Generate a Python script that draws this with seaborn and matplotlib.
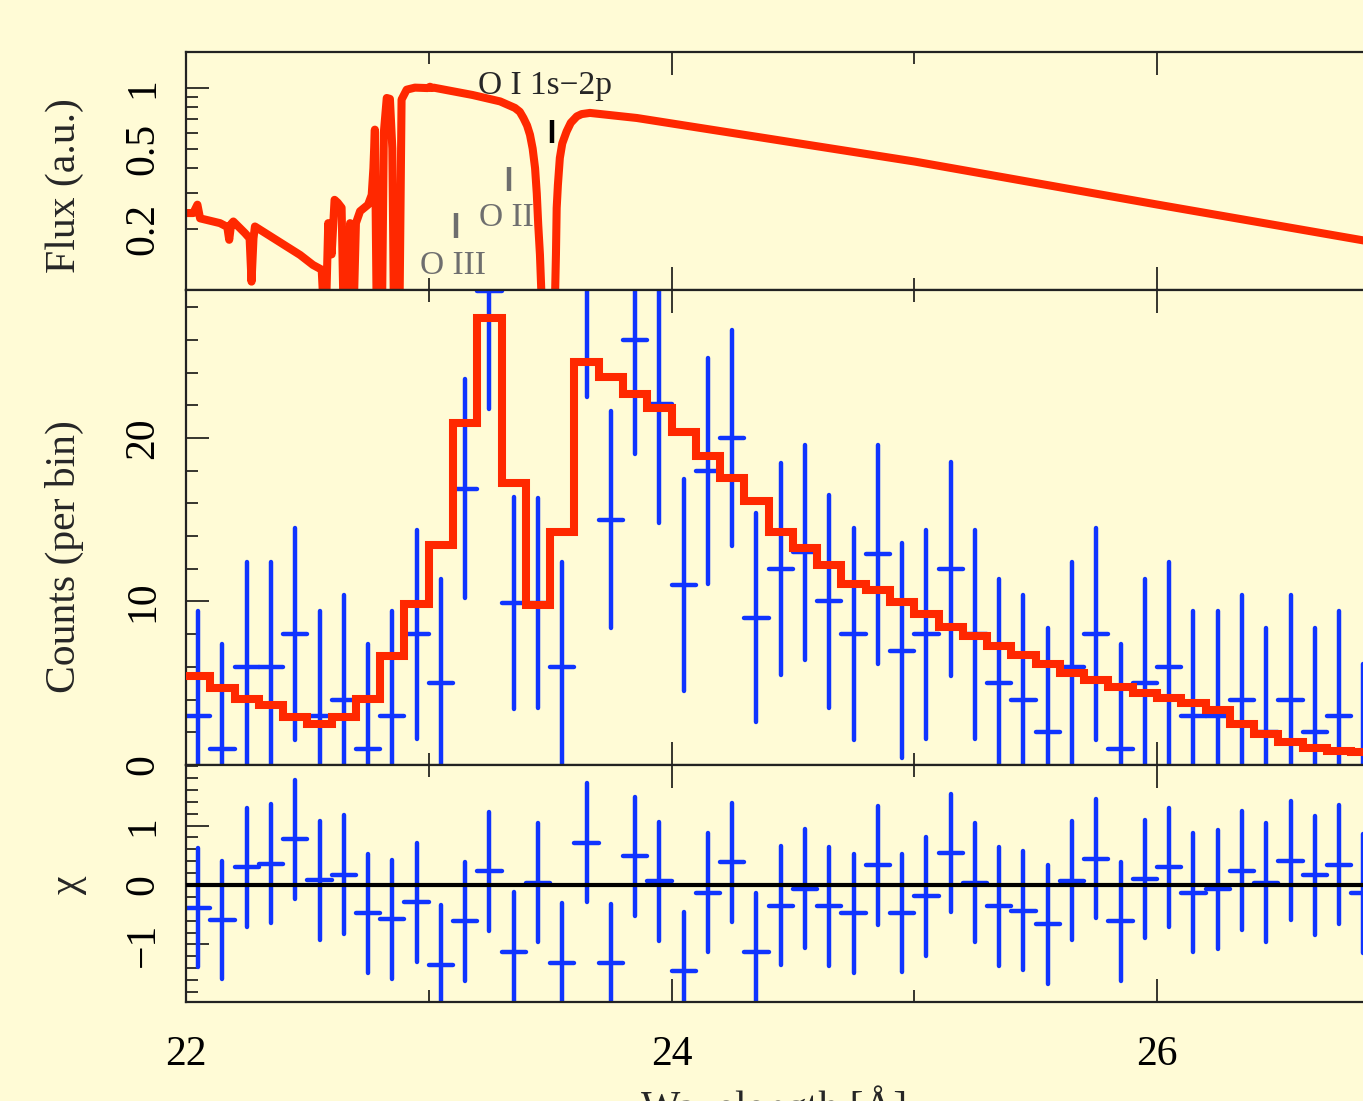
import numpy as np
import matplotlib
matplotlib.use("Agg")
import matplotlib.pyplot as plt
from matplotlib.ticker import FixedLocator, FixedFormatter
import seaborn as sns

# --- data ---
# model flux (top panel)
flux_wl = [22.00, 22.03, 22.047, 22.058, 22.14, 22.17, 22.178, 22.186, 22.195,
           22.243, 22.262, 22.27, 22.278, 22.284, 22.47, 22.523, 22.559,
           22.565, 22.578, 22.586, 22.600, 22.612, 22.625, 22.641, 22.648,
           22.668, 22.676, 22.684, 22.692, 22.700, 22.717, 22.750, 22.765,
           22.772, 22.778, 22.785, 22.808, 22.815, 22.827, 22.840, 22.850,
           22.856, 22.880, 22.888, 22.909, 22.943, 22.995, 23.005, 23.012,
           23.02, 23.18, 23.294, 23.355, 23.375, 23.39, 23.405, 23.417,
           23.428, 23.438, 23.445, 23.451, 23.458, 23.465, 23.52, 23.524,
           23.527, 23.532, 23.54, 23.55, 23.568, 23.585, 23.61, 23.63,
           23.664, 23.857, 25.003, 26.004, 26.92]
flux_val = [0.240, 0.240, 0.264, 0.226, 0.214, 0.205, 0.177, 0.212, 0.218,
            0.191, 0.180, 0.110, 0.180, 0.206, 0.149, 0.133, 0.126,
            0.090, 0.090, 0.214, 0.150, 0.279, 0.270, 0.255, 0.090,
            0.090, 0.214, 0.090, 0.090, 0.214, 0.245, 0.264, 0.295,
            0.400, 0.620, 0.090, 0.090, 0.600, 0.889, 0.880, 0.500,
            0.090, 0.090, 0.873, 0.977, 1.000, 0.995, 1.010, 0.995,
            1.000, 0.920, 0.855, 0.794, 0.760, 0.708, 0.650, 0.585,
            0.500, 0.400, 0.300, 0.210, 0.150, 0.090, 0.090, 0.150,
            0.254, 0.330, 0.449, 0.530, 0.608, 0.670, 0.721, 0.740,
            0.750, 0.708, 0.431, 0.264, 0.170]

# binned spectrum (0.1 A bins starting at 22.0 A)
bin_start = 22.0
bin_width = 0.1
counts = [3, 1, 6, 6, 8, 3, 4, 1, 3, 8,
          5, 16.9, 29.0, 9.9, 9.9, 6, 29.5, 15, 26, 22.1,
          11, 18, 20, 9, 12, 13, 10, 8, 12.9, 7,
          8, 12, 8, 5, 4, 2, 6, 8, 1, 5,
          6, 3, 3, 4, 2, 4, 2, 3, -0.1]
counts_err = [6.4, 6.4, 6.4, 6.4, 6.5, 6.4, 6.4, 6.4, 6.4, 6.4,
              6.4, 6.7, 7.2, 6.5, 6.4, 6.4, 7.0, 6.65, 7.0, 7.3,
              6.5, 6.9, 6.6, 6.4, 6.5, 6.6, 6.5, 6.5, 6.7, 6.6,
              6.4, 6.55, 6.4, 6.4, 6.4, 6.4, 6.4, 6.5, 6.4, 6.4,
              6.4, 6.4, 6.4, 6.4, 6.4, 6.4, 6.4, 6.4, 6.3]
model_counts = [5.44, 4.69, 4.06, 3.67, 2.96, 2.49, 2.92, 4.06, 6.69, 9.85,
                13.46, 20.9, 27.36, 17.23, 9.79, 14.27, 24.67, 23.75, 22.69, 21.81,
                20.35, 18.92, 17.53, 16.17, 14.23, 13.25, 12.23, 11.07, 10.70, 9.99,
                9.22, 8.46, 7.89, 7.28, 6.73, 6.18, 5.61, 5.2, 4.79, 4.38,
                4.08, 3.77, 3.36, 2.49, 1.9, 1.43, 1.02, 0.86, 0.82]
chi = [-0.38, -0.59, 0.30, 0.36, 0.77, 0.08, 0.17, -0.48, -0.58, -0.29,
       -1.34, -0.61, 0.23, -1.12, 0.04, -1.31, 0.71, -1.32, 0.48, 0.06,
       -1.45, -0.13, 0.38, -1.13, -0.35, -0.06, -0.36, -0.48, 0.33, -0.47,
       -0.19, 0.54, 0.04, -0.36, -0.43, -0.66, 0.07, 0.44, -0.61, 0.10,
       0.30, -0.13, -0.07, 0.24, 0.04, 0.41, 0.16, 0.34, -0.14]
chi_err = 1.0

# absorption line markers
line_names = ["O I 1s\u22122p", "O II", "O III"]
line_wl = [23.509, 23.331, 23.112]

# --- style ---
bg = "#fffbd6"
red = "#ff2800"
blue = "#1034ff"
grey = "#6e6e6e"

sns.set_style("ticks", {"axes.facecolor": bg, "figure.facecolor": bg,
                        "axes.edgecolor": "#222222"})
plt.rcParams["font.family"] = ["Liberation Serif", "DejaVu Serif"]
plt.rcParams["axes.linewidth"] = 1.6

fig = plt.figure(figsize=(13.63, 11.01), dpi=100)
L = 186 / 1363
W = 1189 / 1363   # right edge sits just past the picture, as in the original crop
ax1 = fig.add_axes([L, (1101 - 290) / 1101, W, 238 / 1101])
ax2 = fig.add_axes([L, (1101 - 765) / 1101, W, 475 / 1101])
ax3 = fig.add_axes([L, (1101 - 1002) / 1101, W, 237 / 1101])

xmax = 22 + 1189 / 242.75

for ax in (ax1, ax2, ax3):
    ax.set_xlim(22, xmax)
    ax.xaxis.set_major_locator(FixedLocator([22, 24, 26]))
    ax.xaxis.set_minor_locator(FixedLocator([23, 25]))
    ax.tick_params(which="both", direction="in", top=True, right=False,
                   width=1.1, colors="black", labelsize=30)
    ax.tick_params(which="major", length=16.5)
    ax.tick_params(which="minor", length=8.6)
    ax.tick_params(axis="y", labelrotation=90, pad=17)
    ax.tick_params(axis="x", pad=24)

# top panel: model flux
sns.lineplot(x=flux_wl, y=flux_val, ax=ax1, color=red, lw=5.8,
             estimator=None, sort=False, solid_capstyle="round",
             solid_joinstyle="round")
ax1.set_yscale("log")
ax1.set_ylim(0.1, 1.5)
ax1.yaxis.set_major_locator(FixedLocator([1]))
ax1.yaxis.set_major_formatter(FixedFormatter(["1"]))
ax1.yaxis.set_minor_locator(FixedLocator([0.2, 0.3, 0.4, 0.5, 0.6, 0.7, 0.8, 0.9]))
ax1.yaxis.set_minor_formatter(FixedFormatter(["0.2", "", "", "0.5", "", "", "", ""]))
ax1.tick_params(axis="y", which="minor", labelsize=30, labelrotation=90, pad=17)
ax1.set_xticklabels([])
ax1.set_ylabel("Flux (a.u.)", fontsize=30)
ax1.yaxis.set_label_coords(-0.0858, 0.437)

ax1.vlines(line_wl[0], 0.534, 0.695, color="black", lw=3.2)
ax1.vlines(line_wl[1:], [0.309, 0.181], [0.407, 0.240], color=grey, lw=3.2)
ax1.text(23.48, 1.02, line_names[0], ha="center", va="center", fontsize=24)
ax1.text(23.32, 0.227, line_names[1], ha="center", va="center", fontsize=24, color=grey)
ax1.text(23.098, 0.1315, line_names[2], ha="center", va="center", fontsize=24, color=grey)

# middle panel: counts and binned model
centers = np.round(bin_start + bin_width * (np.arange(len(counts)) + 0.5), 3)
edges = bin_start + bin_width * np.arange(len(model_counts) + 1)
sns.lineplot(x=edges, y=model_counts + [model_counts[-1]], ax=ax2, color=red,
             lw=5.8, estimator=None, sort=False, drawstyle="steps-post",
             solid_joinstyle="miter", zorder=3)
eb = ax2.errorbar(centers, counts, xerr=bin_width / 2, yerr=counts_err,
                  fmt="none", ecolor=blue, elinewidth=3.2, capsize=0, zorder=2)
for c in eb[2]:
    c.set_capstyle("round")
ax2.set_ylim(0, 29.05)
ax2.yaxis.set_major_locator(FixedLocator([0, 10, 20]))
ax2.yaxis.set_minor_locator(FixedLocator(np.arange(2, 30, 2)))
ax2.set_xticklabels([])
ax2.set_ylabel("Counts (per bin)", fontsize=30)
ax2.yaxis.set_label_coords(-0.0858, 0.438)

# bottom panel: residuals
eb3 = ax3.errorbar(centers, chi, xerr=bin_width / 2, yerr=chi_err,
                   fmt="none", ecolor=blue, elinewidth=3.2, capsize=0, zorder=2)
for c in eb3[2]:
    c.set_capstyle("round")
ax3.axhline(0, color="black", lw=3, zorder=4)
ax3.set_ylim(-1.97, 2.02)
ax3.yaxis.set_major_locator(FixedLocator([-1, 0, 1]))
ax3.yaxis.set_minor_locator(FixedLocator(np.round(np.arange(-1.8, 2.01, 0.2), 1)))
ax3.set_ylabel("\u03c7", fontsize=30)
ax3.yaxis.set_label_coords(-0.0835, 0.49)
ax3.set_xlabel("Wavelength [\u00c5]", fontsize=30)
ax3.xaxis.set_label_coords(0.4945, -0.35)

for ax in (ax1, ax2, ax3):
    for t in ax.get_yticklabels(which="both"):
        t.set_verticalalignment("center")

fig.savefig("out.png", dpi=100, facecolor=bg)
